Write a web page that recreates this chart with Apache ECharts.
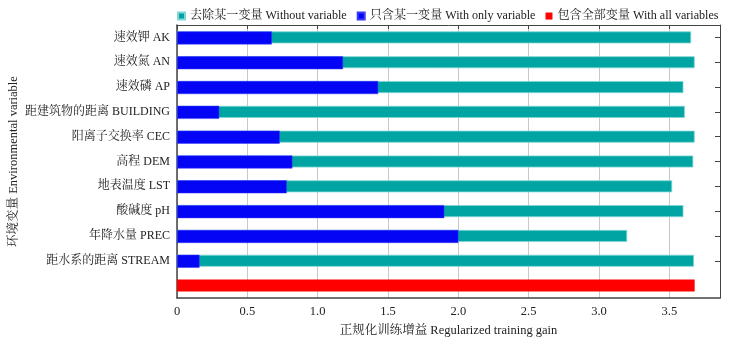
<!DOCTYPE html>
<html><head><meta charset="utf-8">
<script src="https://cdn.jsdelivr.net/npm/echarts@6/dist/echarts.min.js"></script>
<style>html,body{margin:0;padding:0;background:#fff}#c{width:729px;height:344px}</style>
</head><body><div id="c"></div>
<script>
const categories = ['速效钾 AK','速效氮 AN','速效磷 AP','距建筑物的距离 BUILDING','阳离子交换率 CEC','高程 DEM','地表温度 LST','酸碱度 pH','年降水量 PREC','距水系的距离 STREAM',''];
const withoutVariable = [3.655,3.68,3.60,3.61,3.68,3.67,3.52,3.60,3.20,3.675,null];
const withOnlyVariable = [0.674,1.18,1.43,0.30,0.73,0.82,0.78,1.90,2.00,0.16,null];
const withAllVariables = [null,null,null,null,null,null,null,null,null,null,3.68];
const seriesNames = ['去除某一变量 Without variable','只含某一变量 With only variable','包含全部变量 With all variables'];
const xTickLabels = ['0','0.5','1.0','1.5','2.0','2.5','3.0','3.5'];
const xAxisName = '正规化训练增益 Regularized training gain';
const yAxisName = '环境变量 Environmental variable';

const FONT = "'Liberation Serif','Times New Roman','Noto Serif CJK SC','Noto Sans CJK SC',serif";
const chart = echarts.init(document.getElementById('c'));
const fmtX = v => { const i = Math.round(v / 0.5); return Math.abs(v - i * 0.5) < 1e-6 && i < xTickLabels.length ? xTickLabels[i] : ''; };
chart.setOption({
  animation: false,
  textStyle: {fontFamily: FONT},
  legend: {
    top: 5, left: 172, width: 570,
    itemWidth: 7, itemHeight: 7, itemGap: 10,
    icon: 'rect',
    textStyle: {fontFamily: FONT, fontSize: 12.1, color: '#222'},
    data: seriesNames
  },
  grid: {left: 177, right: 9, top: 25, bottom: 46, outerBoundsMode: 'none', containLabel: false},
  xAxis: [{
    type: 'value', min: 0, max: 3.86, interval: 0.5,
    name: xAxisName, nameLocation: 'middle', nameGap: 26, nameMoveOverlap: false,
    nameTextStyle: {fontFamily: FONT, fontSize: 12.5, color: '#222'},
    axisLine: {show: true, onZero: false, lineStyle: {color: '#444', width: 1.5}},
    axisTick: {show: false},
    axisLabel: {formatter: fmtX, fontFamily: FONT, fontSize: 12.5, color: '#222', margin: 7},
    splitLine: {show: true, lineStyle: {color: '#c8c8c8', width: 1}}
  },{
    type: 'value', position: 'top', min: 0, max: 3.86, interval: 0.5,
    axisLine: {show: true, onZero: false, lineStyle: {color: '#444', width: 1}},
    axisTick: {show: true, inside: true, length: 4, lineStyle: {color: '#444'}},
    axisLabel: {show: false}, splitLine: {show: false}
  }],
  yAxis: [{
    type: 'category', data: categories, inverse: true,
    name: yAxisName, nameLocation: 'middle', nameGap: 157, nameRotate: 90, nameMoveOverlap: false,
    nameTextStyle: {fontFamily: FONT, fontSize: 12.5, color: '#222'},
    axisLine: {show: true, onZero: false, lineStyle: {color: '#444', width: 1.5}},
    axisTick: {show: false, length: 0},
    axisLabel: {fontFamily: FONT, fontSize: 12, color: '#222', margin: 7}
  },{
    type: 'category', data: categories, inverse: true, position: 'right',
    axisLine: {show: true, onZero: false, lineStyle: {color: '#444', width: 1}},
    axisTick: {show: true, inside: true, length: 5, alignWithLabel: true,
      interval: (i, v) => v !== '', lineStyle: {color: '#444'}},
    axisLabel: {show: false}
  }],
  series: [{
    name: seriesNames[0], type: 'bar', data: withoutVariable, barWidth: 12, barGap: '-100%',
    itemStyle: {color: '#00A5A3', borderColor: '#7fd6d4', borderWidth: 0.8}, z: 2
  },{
    name: seriesNames[1], type: 'bar', data: withOnlyVariable, barWidth: 13, barGap: '-100%',
    itemStyle: {color: '#0505F5', borderColor: '#3a3aff', borderWidth: 0.5}, z: 3
  },{
    name: seriesNames[2], type: 'bar', data: withAllVariables, barWidth: 12, barGap: '-100%',
    itemStyle: {color: '#FF0000'}, z: 3
  }]
});
</script></body></html>
